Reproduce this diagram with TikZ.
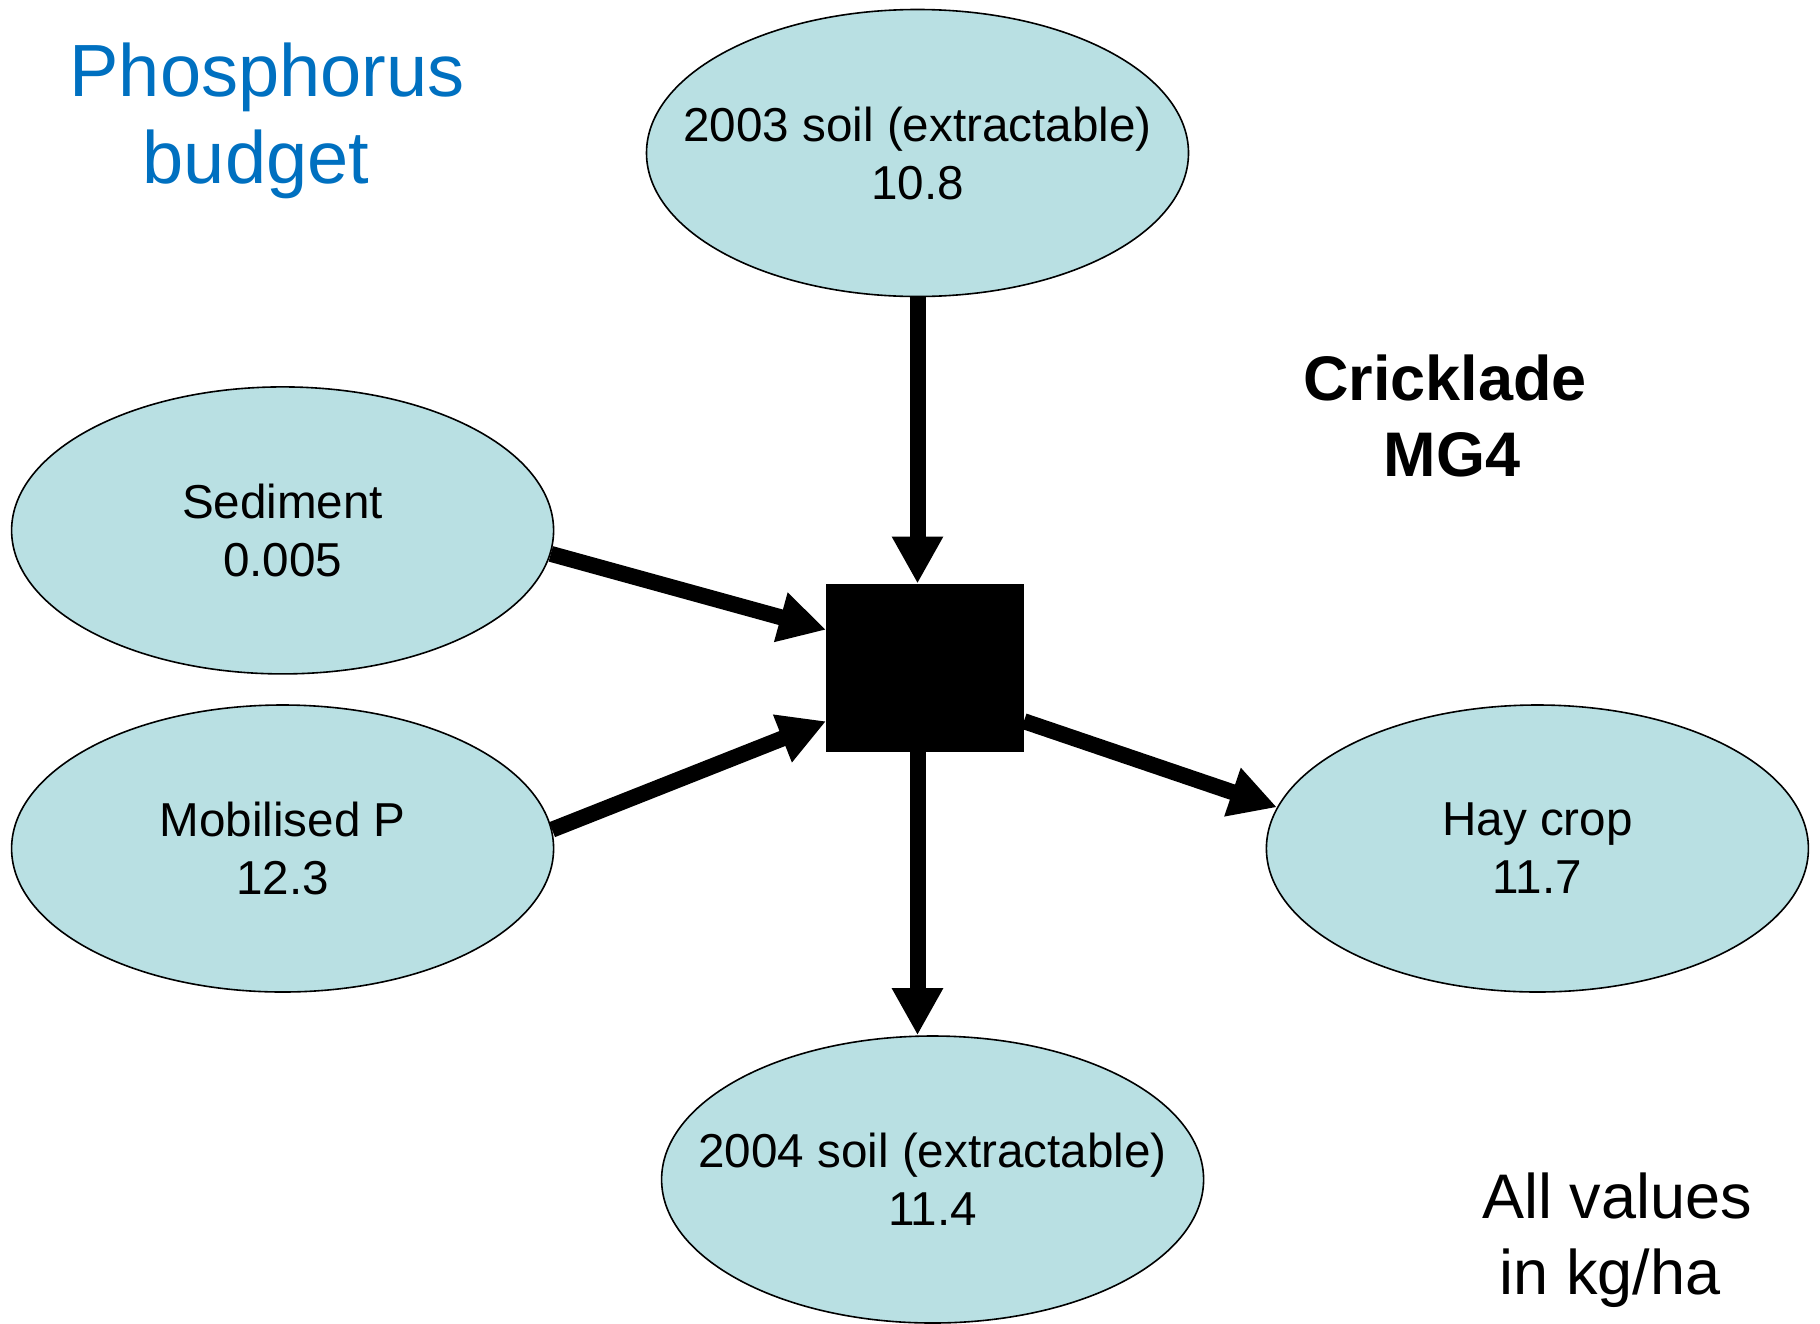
\documentclass[tikz,border=0pt]{standalone}
\usepackage{fontspec}
\setmainfont{Liberation Sans}
\usetikzlibrary{shapes.geometric,arrows.meta,calc}
\definecolor{ellfill}{RGB}{185,224,227}
\definecolor{titleblue}{RGB}{0,112,192}
\begin{document}
\begin{tikzpicture}[x=0.5pt,y=-0.5pt,
  pool/.style={ellipse, draw=black, line width=0.8pt, fill=ellfill,
    minimum width=271pt, minimum height=143.5pt, inner xsep=-60pt, inner ysep=0pt, align=center,
    font=\fontsize{23.8}{29}\selectfont},
  flow/.style={line width=8pt, -{Triangle[width=24pt,length=23.5pt]}},
  hubbox/.style={fill=black, draw=black, minimum width=98.5pt, minimum height=83.5pt, inner sep=0pt}
]
\useasboundingbox (0,0) rectangle (1820,1323);

\node[pool] (top) at (917.5,153) {2003 soil (extractable)\\10.8};
\node[pool] (sed) at (282.6,530.4) {Sediment\\0.005};
\node[pool] (mob) at (282.6,848.5) {Mobilised P\\12.3};
\node[pool] (hay) at (1537.4,848.5) {Hay crop\\11.7};
\node[pool] (bot) at (932.6,1179.5) {2004 soil (extractable)\\11.4};
\node[hubbox] (hub) at (925,667.5) {};

\node[font=\fontsize{37}{43.5}\selectfont, text=titleblue, align=center] (title) at (267,121) {Phosphorus\\budget\hspace*{11pt}};
\node[font=\bfseries\fontsize{31.5}{37.7}\selectfont, align=center] (site) at (1445,416) {Cricklade\\\hspace*{7pt}MG4};
\node[font=\fontsize{31.5}{37.7}\selectfont, align=center] (units) at (1617,1240) {All values\\in kg/ha\hspace*{7pt}};

\draw[flow] (top.south) -- (top.south |- hub.north);
\draw[flow] (top.south |- hub.south) -- (top.south |- bot.north);
\draw[flow] (sed.-5) -- ($(hub.north west)!0.275!(hub.south west)$);
\draw[flow] (mob.4) -- ($(hub.north west)!0.82!(hub.south west)$);
\draw[flow] ($(hub.north east)!0.82!(hub.south east)$) -- (hay.171);
\end{tikzpicture}
\end{document}
